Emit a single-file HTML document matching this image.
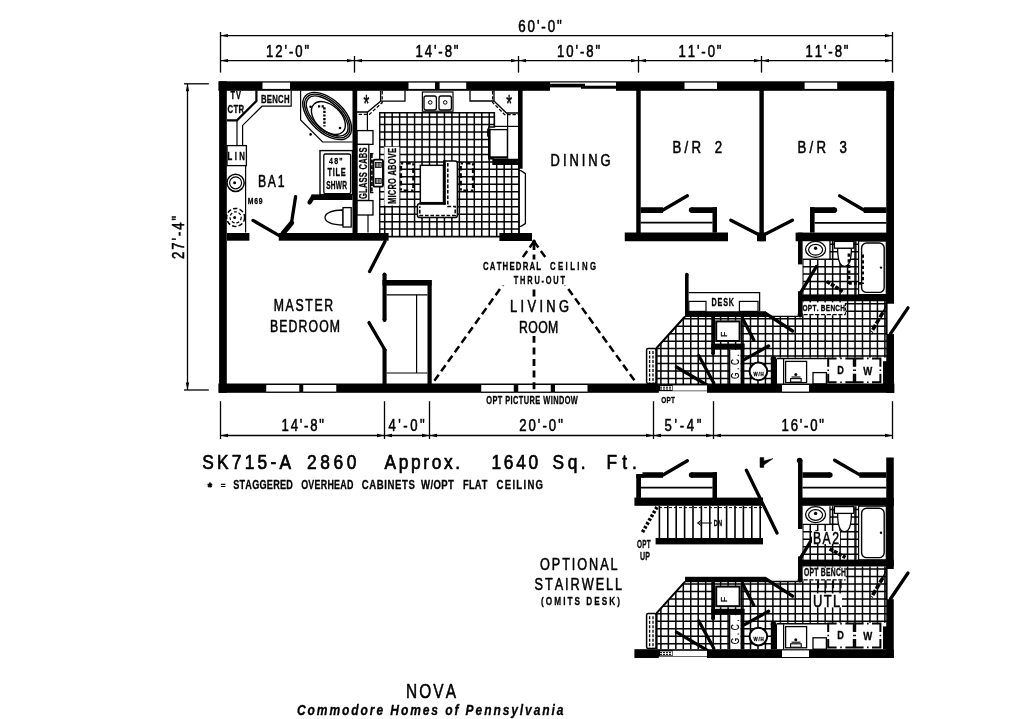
<!DOCTYPE html>
<html><head><meta charset="utf-8"><title>NOVA floor plan</title>
<style>
html,body{margin:0;padding:0;background:#fff;}
svg{display:block;will-change:transform;}
text{font-family:"Liberation Sans",sans-serif;fill:#000;font-kerning:none;}
</style></head><body>
<svg width="1024" height="719" viewBox="0 0 1024 719">
<rect width="1024" height="719" fill="#fff"/>
<clipPath id="gc1"><path d="M379.75 112.75 L494.40 112.75 L494.40 127.00 L488.75 127.00 L488.75 158.75 L493.00 158.75 L493.00 164.40 L519.00 164.40 L519.00 236.70 L379.75 236.70 Z"/></clipPath>
<path d="M384.70 112.75V236.70M392.17 112.75V236.70M399.63 112.75V236.70M407.10 112.75V236.70M414.57 112.75V236.70M422.03 112.75V236.70M429.50 112.75V236.70M436.97 112.75V236.70M444.43 112.75V236.70M451.90 112.75V236.70M459.37 112.75V236.70M466.83 112.75V236.70M474.30 112.75V236.70M481.77 112.75V236.70M489.23 112.75V236.70M496.70 112.75V236.70M504.17 112.75V236.70M511.63 112.75V236.70M379.75 117.10H519.00M379.75 124.57H519.00M379.75 132.03H519.00M379.75 139.50H519.00M379.75 146.97H519.00M379.75 154.43H519.00M379.75 161.90H519.00M379.75 169.37H519.00M379.75 176.83H519.00M379.75 184.30H519.00M379.75 191.77H519.00M379.75 199.23H519.00M379.75 206.70H519.00M379.75 214.17H519.00M379.75 221.63H519.00M379.75 229.10H519.00M379.75 236.57H519.00" fill="none" stroke="#000" stroke-width="1.5" clip-path="url(#gc1)"/>
<path d="M379.75 112.75 L494.40 112.75 L494.40 127.00 L488.75 127.00 L488.75 158.75 L493.00 158.75 L493.00 164.40 L519.00 164.40 L519.00 236.70 L379.75 236.70 Z" fill="none" stroke="#000" stroke-width="1.4" stroke-linejoin="miter" stroke-linecap="butt"/>
<clipPath id="gc2"><path d="M685.00 316.50 L802.50 316.50 L802.50 301.00 L887.00 301.00 L887.00 384.00 L656.60 384.00 L656.60 348.00 Z"/></clipPath>
<path d="M660.90 301.00V384.00M668.37 301.00V384.00M675.83 301.00V384.00M683.30 301.00V384.00M690.77 301.00V384.00M698.23 301.00V384.00M705.70 301.00V384.00M713.17 301.00V384.00M720.63 301.00V384.00M728.10 301.00V384.00M735.57 301.00V384.00M743.03 301.00V384.00M750.50 301.00V384.00M757.97 301.00V384.00M765.43 301.00V384.00M772.90 301.00V384.00M780.37 301.00V384.00M787.83 301.00V384.00M795.30 301.00V384.00M802.77 301.00V384.00M810.23 301.00V384.00M817.70 301.00V384.00M825.17 301.00V384.00M832.63 301.00V384.00M840.10 301.00V384.00M847.57 301.00V384.00M855.03 301.00V384.00M862.50 301.00V384.00M869.97 301.00V384.00M877.43 301.00V384.00M884.90 301.00V384.00M656.60 303.82H887.00M656.60 311.28H887.00M656.60 318.75H887.00M656.60 326.22H887.00M656.60 333.68H887.00M656.60 341.15H887.00M656.60 348.62H887.00M656.60 356.08H887.00M656.60 363.55H887.00M656.60 371.02H887.00M656.60 378.48H887.00" fill="none" stroke="#000" stroke-width="1.5" clip-path="url(#gc2)"/>
<clipPath id="gc3"><path d="M802.50 241.00 L858.50 241.00 L858.50 295.00 L802.50 295.00 Z"/></clipPath>
<path d="M802.77 241.00V295.00M810.23 241.00V295.00M817.70 241.00V295.00M825.17 241.00V295.00M832.63 241.00V295.00M840.10 241.00V295.00M847.57 241.00V295.00M855.03 241.00V295.00M802.50 244.23H858.50M802.50 251.70H858.50M802.50 259.17H858.50M802.50 266.63H858.50M802.50 274.10H858.50M802.50 281.57H858.50M802.50 289.03H858.50" fill="none" stroke="#000" stroke-width="1.5" clip-path="url(#gc3)"/>
<rect x="802.50" y="241.00" width="27.50" height="18.40" fill="#fff" />
<rect x="715.00" y="320.60" width="25.60" height="21.40" fill="#fff" />
<rect x="730.00" y="350.00" width="10.60" height="34.00" fill="#fff" />
<rect x="777.00" y="357.60" width="110.00" height="26.40" fill="#fff" />
<path d="M685.00 316.50 L656.60 348.00 L656.60 384.00" fill="none" stroke="#000" stroke-width="2" stroke-linejoin="miter" stroke-linecap="butt"/>
<rect x="646.6" y="348.4" width="9.4" height="35" rx="1.5" fill="#fff" stroke="#000" stroke-width="1.5"/>
<line x1="649.60" y1="351.00" x2="649.60" y2="383.00" stroke="#000" stroke-width="1.3" stroke-linecap="butt" stroke-dasharray="3 1.5"/>
<line x1="653.00" y1="351.00" x2="653.00" y2="383.00" stroke="#000" stroke-width="1.3" stroke-linecap="butt" stroke-dasharray="3 1.5"/>
<line x1="765.00" y1="316.30" x2="798.00" y2="316.30" stroke="#000" stroke-width="1.3" stroke-linecap="butt"/>
<line x1="886.60" y1="301.00" x2="886.60" y2="334.50" stroke="#000" stroke-width="2" stroke-linecap="butt"/>
<rect x="685.00" y="311.25" width="81.00" height="5.75" fill="#000" />
<rect x="711.25" y="317.00" width="3.75" height="36.50" fill="#000" />
<circle cx="713.1" cy="353.3" r="1.9" fill="#000"/>
<rect x="711.25" y="343.60" width="33.15" height="6.00" fill="#000" />
<rect x="740.60" y="343.60" width="3.80" height="40.40" fill="#000" />
<line x1="741.60" y1="317.00" x2="741.60" y2="344.00" stroke="#000" stroke-width="1.6" stroke-linecap="butt"/>
<rect x="716.20" y="321.40" width="23.40" height="19.60" fill="#fff" stroke="#000" stroke-width="2" />
<text transform="translate(727.2 337.00) rotate(-90) scale(0.9 1)" font-size="9.6" stroke="#000" stroke-width="0.3">F</text>
<line x1="729.60" y1="349.60" x2="729.60" y2="384.00" stroke="#000" stroke-width="1.4" stroke-linecap="butt"/>
<text transform="translate(739.40 366.60) rotate(-90) translate(-12.50 0) scale(0.7200 1)" font-size="11.40" font-weight="normal" letter-spacing="3.748" stroke="#000" stroke-width="0.3" stroke-linejoin="round">G.C.</text>
<circle cx="758.40" cy="371.40" r="8.80" fill="#fff" stroke="#000" stroke-width="2"/>
<text transform="translate(758.60 375.60) translate(-5.20 0) scale(0.7200 1)" font-size="6.09" font-weight="bold" letter-spacing="1.300" stroke="#000" stroke-width="0.3" stroke-linejoin="round">W/H</text>
<rect x="770.80" y="359.00" width="6.20" height="25.00" fill="#000" />
<circle cx="773.4" cy="358.8" r="2.8" fill="#000"/>
<line x1="776.60" y1="358.60" x2="829.00" y2="358.60" stroke="#000" stroke-width="1.5" stroke-linecap="butt"/>
<line x1="783.60" y1="359.00" x2="783.60" y2="384.00" stroke="#000" stroke-width="1.2" stroke-linecap="butt"/>
<rect x="785.60" y="361.40" width="21.00" height="21.20" fill="#fff" stroke="#000" stroke-width="1.3" />
<rect x="790.60" y="378.60" width="10.60" height="3.40" fill="#fff" stroke="#000" stroke-width="1.1" />
<circle cx="795.8" cy="374.6" r="1.5" fill="#000"/>
<line x1="791.50" y1="377.00" x2="800.50" y2="377.00" stroke="#000" stroke-width="1.1" stroke-linecap="butt"/>
<rect x="813.00" y="372.60" width="13.40" height="11.40" fill="#fff" stroke="#000" stroke-width="1.3" />
<rect x="828.20" y="358.40" width="25.60" height="23.80" fill="#fff" />
<path d="M828.2 366.79999999999995V358.4H836.6M845.4 358.4H853.8V366.79999999999995M853.8 373.8V382.2H845.4M836.6 382.2H828.2V373.8" fill="none" stroke="#000" stroke-width="2"/>
<path d="M840.2 358.4h1.6M840.2 382.2h1.6M828.2 369.49999999999994v1.6M853.8 369.49999999999994v1.6" fill="none" stroke="#000" stroke-width="1.6"/>
<rect x="855.20" y="358.40" width="25.20" height="23.80" fill="#fff" />
<path d="M855.2 366.79999999999995V358.4H863.6M872.0 358.4H880.4V366.79999999999995M880.4 373.8V382.2H872.0M863.6 382.2H855.2V373.8" fill="none" stroke="#000" stroke-width="2"/>
<path d="M867.0 358.4h1.6M867.0 382.2h1.6M855.2 369.49999999999994v1.6M880.4 369.49999999999994v1.6" fill="none" stroke="#000" stroke-width="1.6"/>
<text transform="translate(840.60 374.20) translate(-3.30 0) scale(0.8245 1)" font-size="11.12" font-weight="bold" letter-spacing="0.303" stroke="#000" stroke-width="0.3" stroke-linejoin="round">D</text>
<text transform="translate(867.80 374.80) translate(-4.50 0) scale(0.8787 1)" font-size="10.84" font-weight="bold" letter-spacing="0.284" stroke="#000" stroke-width="0.3" stroke-linejoin="round">W</text>
<rect x="883.00" y="361.20" width="4.00" height="22.80" fill="#000" />
<rect x="798.00" y="294.40" width="95.75" height="6.85" fill="#000" />
<rect x="858.60" y="241.00" width="27.70" height="53.60" fill="#fff" stroke="#000" stroke-width="1.2" />
<rect x="861.6" y="243" width="22.6" height="49.4" rx="5" fill="#fff" stroke="#000" stroke-width="1.4"/>
<circle cx="881" cy="267.6" r="1.2" fill="#000"/>
<line x1="856.00" y1="241.00" x2="856.00" y2="294.60" stroke="#000" stroke-width="1.1" stroke-linecap="butt"/>
<line x1="830.00" y1="241.00" x2="830.00" y2="259.40" stroke="#000" stroke-width="1.3" stroke-linecap="butt"/>
<line x1="802.50" y1="259.20" x2="830.00" y2="259.20" stroke="#000" stroke-width="1.3" stroke-linecap="butt"/>
<ellipse cx="815.60" cy="249.40" rx="10.00" ry="8.00" fill="#fff" stroke="#000" stroke-width="1.3"/>
<ellipse cx="815.60" cy="249.80" rx="7.00" ry="5.40" fill="#fff" stroke="#000" stroke-width="1.2"/>
<circle cx="815.6" cy="248.2" r="1.7" fill="#000"/>
<line x1="832.60" y1="241.00" x2="832.60" y2="259.00" stroke="#000" stroke-width="1.1" stroke-linecap="butt"/>
<path d="M837.6 248 C837.6 258 839.5 266.4 844.5 266.4 C849.5 266.4 851.4 258 851.4 248 Z" fill="#fff" stroke="#000" stroke-width="1.3"/>
<rect x="834.40" y="241.40" width="19.40" height="6.80" fill="#fff" stroke="#000" stroke-width="1.3" />
<line x1="849.00" y1="253.60" x2="849.00" y2="284.00" stroke="#000" stroke-width="2.8" stroke-linecap="butt" stroke-dasharray="3.2 2.4"/>
<line x1="862.60" y1="254.60" x2="862.60" y2="284.00" stroke="#000" stroke-width="2.8" stroke-linecap="butt" stroke-dasharray="3.2 2.4"/>
<line x1="849.00" y1="283.40" x2="862.60" y2="283.40" stroke="#000" stroke-width="2.6" stroke-linecap="butt" stroke-dasharray="2.8 2.2"/>
<line x1="826.80" y1="281.40" x2="843.80" y2="292.20" stroke="#000" stroke-width="3.6" stroke-linecap="butt" stroke-dasharray="3.8 1.2"/>
<line x1="886.00" y1="305.60" x2="882.60" y2="313.00" stroke="#000" stroke-width="1.4" stroke-linecap="butt"/>
<line x1="882.80" y1="312.60" x2="871.40" y2="332.00" stroke="#000" stroke-width="3.6" stroke-linecap="butt" stroke-dasharray="5.6 1.6"/>
<rect x="802.60" y="302.40" width="43.00" height="12.80" fill="#fff" />
<line x1="803.50" y1="314.60" x2="845.60" y2="314.60" stroke="#000" stroke-width="1.2" stroke-linecap="butt" stroke-dasharray="4.2 1.6"/>
<line x1="845.40" y1="303.00" x2="845.40" y2="314.60" stroke="#000" stroke-width="1.1" stroke-linecap="butt" stroke-dasharray="3 1.6"/>
<text transform="translate(823.80 310.80) translate(-21.25 0) scale(0.7720 1)" font-size="8.46" font-weight="bold" letter-spacing="0.324" stroke="#000" stroke-width="0.3" stroke-linejoin="round">OPT. BENCH</text>
<line x1="890.40" y1="333.80" x2="908.00" y2="307.80" stroke="#000" stroke-width="3.3" stroke-linecap="round"/>
<line x1="742.60" y1="318.60" x2="753.80" y2="340.00" stroke="#000" stroke-width="3.3" stroke-linecap="round"/>
<line x1="744.60" y1="359.40" x2="768.60" y2="346.00" stroke="#000" stroke-width="3.3" stroke-linecap="round"/>
<line x1="698.80" y1="355.80" x2="713.80" y2="383.00" stroke="#000" stroke-width="3.3" stroke-linecap="round"/>
<line x1="676.40" y1="367.00" x2="707.00" y2="385.00" stroke="#000" stroke-width="3.3" stroke-linecap="round"/>
<line x1="766.00" y1="313.60" x2="792.60" y2="331.00" stroke="#000" stroke-width="3.3" stroke-linecap="round"/>
<line x1="816.40" y1="266.60" x2="800.40" y2="293.00" stroke="#000" stroke-width="3.3" stroke-linecap="round"/>
<rect x="384.30" y="146.80" width="15.10" height="58.80" fill="#fff" />
<rect x="420.40" y="165.40" width="23.00" height="37.20" fill="#fff" stroke="#000" stroke-width="1.3" />
<path d="M445.8 161 H455 Q457.4 161 457.4 163.4 V215 Q457.4 217.6 455 217.6 H420 Q417.4 217.6 417.4 215 V206 Q417.4 203.8 419.6 203.8 H444.4 V161 Z" fill="#fff" stroke="#000" stroke-width="1.5"/>
<rect x="420.40" y="165.40" width="23.00" height="37.20" fill="#fff" stroke="#000" stroke-width="1.3" />
<line x1="444.40" y1="160.40" x2="444.40" y2="204.60" stroke="#000" stroke-width="2.8" stroke-linecap="butt"/>
<line x1="419.60" y1="203.40" x2="445.80" y2="203.40" stroke="#000" stroke-width="2.4" stroke-linecap="butt"/>
<path d="M447.80 163.00 L447.80 206.40 L455.20 206.40 L455.20 215.40 L419.80 215.40 L419.80 206.20" fill="none" stroke="#000" stroke-width="1.5" stroke-linejoin="miter" stroke-linecap="butt" stroke-dasharray="3.6 1.8"/>
<line x1="400.9" y1="163.2" x2="413.4" y2="163.2" stroke="#000" stroke-width="2.4" stroke-dasharray="4.6 2.8667" stroke-dashoffset="2.3"/>
<line x1="413.4" y1="163.2" x2="413.4" y2="190.6" stroke="#000" stroke-width="2.4" stroke-dasharray="4.6 2.8667" stroke-dashoffset="2.3"/>
<line x1="413.4" y1="190.6" x2="400.9" y2="190.6" stroke="#000" stroke-width="2.4" stroke-dasharray="4.6 2.8667" stroke-dashoffset="2.3"/>
<line x1="400.9" y1="190.6" x2="400.9" y2="163.2" stroke="#000" stroke-width="2.4" stroke-dasharray="4.6 2.8667" stroke-dashoffset="2.3"/>
<line x1="460.7" y1="163.2" x2="473.1" y2="163.2" stroke="#000" stroke-width="2.4" stroke-dasharray="4.6 2.8667" stroke-dashoffset="2.3"/>
<line x1="473.1" y1="163.2" x2="473.1" y2="190.6" stroke="#000" stroke-width="2.4" stroke-dasharray="4.6 2.8667" stroke-dashoffset="2.3"/>
<line x1="473.1" y1="190.6" x2="460.7" y2="190.6" stroke="#000" stroke-width="2.4" stroke-dasharray="4.6 2.8667" stroke-dashoffset="2.3"/>
<line x1="460.7" y1="190.6" x2="460.7" y2="163.2" stroke="#000" stroke-width="2.4" stroke-dasharray="4.6 2.8667" stroke-dashoffset="2.3"/>
<rect x="489.40" y="129.60" width="18.00" height="28.00" fill="#fff" stroke="#000" stroke-width="1.3" />
<line x1="489.40" y1="128.60" x2="489.40" y2="158.20" stroke="#000" stroke-width="2.4" stroke-linecap="butt"/>
<line x1="488.40" y1="157.40" x2="507.60" y2="157.40" stroke="#000" stroke-width="2.2" stroke-linecap="butt"/>
<line x1="488.20" y1="129.40" x2="488.20" y2="136.00" stroke="#000" stroke-width="2.2" stroke-linecap="round"/>
<rect x="493.00" y="158.75" width="25.40" height="5.65" fill="#000" />
<line x1="507.60" y1="113.00" x2="507.60" y2="158.80" stroke="#000" stroke-width="1.2" stroke-linecap="butt"/>
<line x1="494.40" y1="126.40" x2="518.00" y2="126.40" stroke="#000" stroke-width="1.2" stroke-linecap="butt"/>
<line x1="494.40" y1="112.75" x2="494.40" y2="126.40" stroke="#000" stroke-width="1.3" stroke-linecap="butt"/>
<path d="M470.00 90.50 L470.00 101.00 L494.00 101.00 L494.00 90.50" fill="none" stroke="#000" stroke-width="1.3" stroke-linejoin="miter" stroke-linecap="butt"/>
<path d="M494.00 101.00 L506.40 113.00 L518.00 113.00" fill="none" stroke="#000" stroke-width="1.3" stroke-linejoin="miter" stroke-linecap="butt"/>
<path d="M492.60 91.00 L492.60 102.40 L504.60 114.60 L518.00 114.60" fill="none" stroke="#000" stroke-width="1.3" stroke-linejoin="miter" stroke-linecap="butt" stroke-dasharray="3.4 1.8"/>
<text transform="translate(509.2 112.4) scale(0.62 1)" font-size="24" text-anchor="middle" stroke="#000" stroke-width="0.5">*</text>
<path d="M380.60 90.50 L380.60 101.20 L405.00 101.20 L405.00 90.50" fill="none" stroke="#000" stroke-width="1.3" stroke-linejoin="miter" stroke-linecap="butt"/>
<path d="M380.60 101.20 L367.60 112.00 L357.00 112.00" fill="none" stroke="#000" stroke-width="1.3" stroke-linejoin="miter" stroke-linecap="butt"/>
<path d="M382.20 91.00 L382.20 102.60 L369.40 114.40 L357.00 114.40" fill="none" stroke="#000" stroke-width="1.3" stroke-linejoin="miter" stroke-linecap="butt" stroke-dasharray="3.4 1.8"/>
<line x1="367.40" y1="112.00" x2="367.40" y2="130.60" stroke="#000" stroke-width="1.2" stroke-linecap="butt"/>
<text transform="translate(366.4 112.4) scale(0.62 1)" font-size="24" text-anchor="middle" stroke="#000" stroke-width="0.5">*</text>
<rect x="357.00" y="130.60" width="16.00" height="13.80" fill="#fff" stroke="#000" stroke-width="1.3" />
<rect x="357.00" y="144.40" width="11.80" height="56.00" fill="#fff" stroke="#000" stroke-width="1.2" />
<rect x="357.00" y="200.60" width="16.00" height="14.40" fill="#fff" stroke="#000" stroke-width="1.3" />
<line x1="368.00" y1="215.00" x2="368.00" y2="232.60" stroke="#000" stroke-width="1.2" stroke-linecap="butt"/>
<text transform="translate(367.40 173.30) rotate(-90) translate(-25.75 0) scale(0.6943 1)" font-size="10.84" font-weight="bold" letter-spacing="0.360" stroke="#000" stroke-width="0.3" stroke-linejoin="round">GLASS CABS</text>
<text transform="translate(395.60 176.00) rotate(-90) translate(-28.00 0) scale(0.6890 1)" font-size="10.84" font-weight="bold" letter-spacing="0.363" stroke="#000" stroke-width="0.3" stroke-linejoin="round">MICRO ABOVE</text>
<path d="M373.40 153.60 L370.60 153.60 L370.60 192.60 L373.40 192.60" fill="none" stroke="#000" stroke-width="1.2" stroke-linejoin="miter" stroke-linecap="butt"/>
<line x1="371.90" y1="154.00" x2="371.90" y2="192.40" stroke="#000" stroke-width="1.6" stroke-linecap="butt" stroke-dasharray="4 1.6"/>
<line x1="370.60" y1="161.20" x2="374.00" y2="161.20" stroke="#000" stroke-width="1.2" stroke-linecap="butt"/>
<line x1="370.60" y1="177.00" x2="374.00" y2="177.00" stroke="#000" stroke-width="1.2" stroke-linecap="butt"/>
<rect x="373.4" y="159.6" width="9.6" height="27" rx="1.6" fill="#fff" stroke="#000" stroke-width="1.9"/>
<rect x="375.40" y="162.40" width="5.80" height="5.00" fill="#fff" stroke="#000" stroke-width="0.9" />
<line x1="376.80" y1="162.40" x2="376.80" y2="167.40" stroke="#000" stroke-width="0.8" stroke-linecap="butt"/>
<line x1="378.30" y1="162.40" x2="378.30" y2="167.40" stroke="#000" stroke-width="0.8" stroke-linecap="butt"/>
<line x1="379.80" y1="162.40" x2="379.80" y2="167.40" stroke="#000" stroke-width="0.8" stroke-linecap="butt"/>
<rect x="375.40" y="178.40" width="5.80" height="5.00" fill="#fff" stroke="#000" stroke-width="0.9" />
<line x1="376.80" y1="178.40" x2="376.80" y2="183.40" stroke="#000" stroke-width="0.8" stroke-linecap="butt"/>
<line x1="378.30" y1="178.40" x2="378.30" y2="183.40" stroke="#000" stroke-width="0.8" stroke-linecap="butt"/>
<line x1="379.80" y1="178.40" x2="379.80" y2="183.40" stroke="#000" stroke-width="0.8" stroke-linecap="butt"/>
<rect x="422.40" y="92.00" width="30.60" height="19.20" fill="#fff" stroke="#000" stroke-width="1.2" />
<rect x="424" y="96" width="12.4" height="14" rx="2" fill="#fff" stroke="#000" stroke-width="1.3"/>
<rect x="439" y="96" width="12.4" height="14" rx="2" fill="#fff" stroke="#000" stroke-width="1.3"/>
<circle cx="430.20" cy="102.40" r="1.80" fill="none" stroke="#000" stroke-width="1"/>
<circle cx="445.20" cy="102.40" r="1.80" fill="none" stroke="#000" stroke-width="1"/>
<path d="M519.00 170.60 L521.00 170.60 L525.40 173.60 L525.40 223.60 L521.00 226.40 L519.00 226.40" fill="none" stroke="#000" stroke-width="1.3" stroke-linejoin="miter" stroke-linecap="butt"/>
<line x1="519.00" y1="164.00" x2="519.00" y2="237.00" stroke="#000" stroke-width="1.4" stroke-linecap="butt"/>
<path d="M256.40 90.50 L256.40 101.00 L237.00 120.40 L227.00 120.40" fill="none" stroke="#000" stroke-width="2.2" stroke-linejoin="miter" stroke-linecap="butt"/>
<path d="M291.20 90.50 L291.20 106.20 L262.00 106.20 L242.60 125.40 L242.60 145.60" fill="none" stroke="#000" stroke-width="1.2" stroke-linejoin="miter" stroke-linecap="butt"/>
<line x1="237.00" y1="120.40" x2="237.00" y2="145.60" stroke="#000" stroke-width="1.2" stroke-linecap="butt"/>
<rect x="227.00" y="145.60" width="19.40" height="20.00" fill="#fff" stroke="#000" stroke-width="1.3" />
<line x1="245.60" y1="165.60" x2="245.60" y2="232.60" stroke="#000" stroke-width="1.2" stroke-linecap="butt"/>
<text transform="translate(235.80 99.10) translate(-5.20 0) scale(0.7200 1)" font-size="10.28" font-weight="bold" letter-spacing="1.338" stroke="#000" stroke-width="0.3" stroke-linejoin="round">TV</text>
<text transform="translate(235.80 113.10) translate(-8.25 0) scale(0.7200 1)" font-size="10.84" font-weight="bold" letter-spacing="0.349" stroke="#000" stroke-width="0.3" stroke-linejoin="round">CTR</text>
<text transform="translate(275.20 103.20) translate(-14.20 0) scale(0.7132 1)" font-size="10.84" font-weight="bold" letter-spacing="0.351" stroke="#000" stroke-width="0.3" stroke-linejoin="round">BENCH</text>
<text transform="translate(236.20 160.00) translate(-8.75 0) scale(0.7200 1)" font-size="10.84" font-weight="bold" letter-spacing="3.428" stroke="#000" stroke-width="0.3" stroke-linejoin="round">LIN</text>
<circle cx="235.60" cy="182.80" r="8.60" fill="none" stroke="#000" stroke-width="1.5"/>
<circle cx="235.60" cy="182.80" r="6.00" fill="none" stroke="#000" stroke-width="1.2"/>
<circle cx="234.6" cy="182.8" r="1.5" fill="#000"/>
<circle cx="235.60" cy="217.40" r="9.00" fill="none" stroke="#000" stroke-width="1.5" stroke-dasharray="4.4 2.2"/>
<circle cx="235.60" cy="217.40" r="5.60" fill="none" stroke="#000" stroke-width="1.2" stroke-dasharray="3 1.8"/>
<circle cx="234.6" cy="217.4" r="1.5" fill="#000"/>
<text transform="translate(271.20 187.00) translate(-13.30 0) scale(0.7400 1)" font-size="16.56" font-weight="normal" letter-spacing="2.361" stroke="#000" stroke-width="0.55" stroke-linejoin="round">BA1</text>
<text transform="translate(255.10 204.40) translate(-7.35 0) scale(0.7200 1)" font-size="9.44" font-weight="bold" letter-spacing="1.027" stroke="#000" stroke-width="0.3" stroke-linejoin="round">M69</text>
<path d="M300.60 90.50 L300.60 120.00 L322.60 142.00 L352.50 142.00" fill="none" stroke="#000" stroke-width="1.2" stroke-linejoin="miter" stroke-linecap="butt"/>
<ellipse cx="327.20" cy="116.00" rx="29.60" ry="16.60" fill="none" stroke="#000" stroke-width="1.4" transform="rotate(43 327.20 116.00)"/>
<ellipse cx="327.20" cy="116.00" rx="27.70" ry="14.90" fill="none" stroke="#000" stroke-width="1.4" transform="rotate(43 327.20 116.00)"/>
<ellipse cx="327.20" cy="116.00" rx="25.80" ry="13.20" fill="none" stroke="#000" stroke-width="1.4" transform="rotate(43 327.20 116.00)"/>
<ellipse cx="328.40" cy="118.00" rx="20.00" ry="12.60" fill="none" stroke="#000" stroke-width="1.4" transform="rotate(43 328.40 118.00)"/>
<path d="M318.00 106.40 L324.40 106.40 L324.40 126.40" fill="none" stroke="#000" stroke-width="2.4" stroke-linejoin="miter" stroke-linecap="butt" stroke-dasharray="2.2 1.4"/>
<circle cx="310.6" cy="106.8" r="1.3" fill="#000"/>
<circle cx="310.6" cy="134.4" r="1.3" fill="#000"/>
<circle cx="340" cy="128" r="1.3" fill="#000"/>
<rect x="320.00" y="150.60" width="32.50" height="44.00" fill="#fff" stroke="#000" stroke-width="1.4" />
<rect x="323.8" y="154" width="26.8" height="39.6" rx="1.6" fill="#fff" stroke="#000" stroke-width="1.3"/>
<text transform="translate(335.80 163.80) translate(-6.75 0) scale(0.7200 1)" font-size="9.72" font-weight="bold" letter-spacing="1.671" stroke="#000" stroke-width="0.3" stroke-linejoin="round">48"</text>
<text transform="translate(336.60 176.30) translate(-9.05 0) scale(0.7200 1)" font-size="10.28" font-weight="bold" letter-spacing="0.961" stroke="#000" stroke-width="0.3" stroke-linejoin="round">TILE</text>
<text transform="translate(336.60 188.70) translate(-10.40 0) scale(0.6226 1)" font-size="10.56" font-weight="bold" letter-spacing="0.402" stroke="#000" stroke-width="0.3" stroke-linejoin="round">SHWR</text>
<rect x="311.40" y="194.40" width="41.10" height="5.60" fill="#000" />
<path d="M313.00 197.00 L309.60 202.40" fill="none" stroke="#000" stroke-width="4.4" stroke-linejoin="miter" stroke-linecap="round"/>
<path d="M343 210 C332 210 325 213 325 217.5 C325 222 332 225 343 225 Z" fill="#fff" stroke="#000" stroke-width="1.3"/>
<rect x="343.00" y="207.60" width="8.20" height="19.40" fill="#fff" stroke="#000" stroke-width="1.3" />
<line x1="357.00" y1="215.00" x2="357.00" y2="232.60" stroke="#000" stroke-width="1.0" stroke-linecap="butt"/>
<rect x="218.40" y="81.30" width="331.60" height="9.50" fill="#000" />
<rect x="616.00" y="81.30" width="278.20" height="9.50" fill="#000" />
<rect x="219.10" y="81.30" width="7.70" height="311.50" fill="#000" />
<rect x="218.40" y="383.50" width="676.00" height="9.30" fill="#000" />
<rect x="886.25" y="81.30" width="7.75" height="222.45" fill="#000" />
<rect x="886.25" y="334.00" width="7.75" height="58.80" fill="#000" />
<line x1="550.00" y1="81.90" x2="616.00" y2="81.90" stroke="#000" stroke-width="1.1" stroke-linecap="butt"/>
<rect x="550.00" y="83.75" width="35.00" height="3.65" fill="#000" />
<rect x="581.00" y="85.70" width="35.00" height="3.05" fill="#000" />
<rect x="352.50" y="90.00" width="4.70" height="150.00" fill="#000" />
<rect x="518.00" y="90.00" width="4.60" height="78.75" fill="#000" />
<rect x="636.25" y="90.00" width="4.45" height="151.00" fill="#000" />
<rect x="759.40" y="90.00" width="4.40" height="151.25" fill="#000" />
<rect x="757.00" y="232.50" width="9.00" height="8.75" fill="#000" />
<rect x="227.00" y="233.00" width="22.40" height="7.70" fill="#000" />
<rect x="278.75" y="233.00" width="109.85" height="7.70" fill="#000" />
<rect x="499.40" y="233.00" width="32.60" height="8.00" fill="#000" />
<circle cx="534" cy="241.2" r="1.8" fill="#000"/>
<rect x="624.75" y="232.50" width="103.25" height="8.75" fill="#000" />
<rect x="795.60" y="232.60" width="98.15" height="8.65" fill="#000" />
<rect x="798.00" y="232.60" width="4.50" height="31.80" fill="#000" />
<rect x="798.00" y="291.25" width="4.50" height="23.75" fill="#000" />
<circle cx="800.2" cy="314.8" r="2.6" fill="#000"/>
<rect x="640.60" y="207.25" width="22.40" height="5.75" fill="#000" />
<rect x="691.40" y="207.25" width="25.60" height="5.75" fill="#000" />
<rect x="712.50" y="207.25" width="4.50" height="25.35" fill="#000" />
<circle cx="691.6" cy="210.1" r="2.8" fill="#000"/>
<line x1="640.60" y1="222.60" x2="712.50" y2="222.60" stroke="#000" stroke-width="1.7" stroke-linecap="butt"/>
<rect x="810.00" y="207.25" width="4.60" height="25.35" fill="#000" />
<rect x="810.00" y="207.25" width="24.60" height="5.75" fill="#000" />
<circle cx="834.4" cy="210.1" r="2.8" fill="#000"/>
<rect x="863.75" y="207.25" width="22.65" height="5.75" fill="#000" />
<line x1="814.60" y1="222.80" x2="886.30" y2="222.80" stroke="#000" stroke-width="1.7" stroke-linecap="butt"/>
<rect x="382.50" y="274.40" width="4.10" height="45.60" fill="#000" />
<circle cx="384.5" cy="274.6" r="2" fill="#000"/><circle cx="384.5" cy="320" r="2" fill="#000"/>
<rect x="382.50" y="280.00" width="49.10" height="5.60" fill="#000" />
<rect x="427.50" y="280.00" width="4.20" height="104.00" fill="#000" />
<rect x="382.50" y="349.00" width="4.10" height="35.00" fill="#000" />
<line x1="386.60" y1="294.80" x2="427.50" y2="294.80" stroke="#000" stroke-width="1.3" stroke-linecap="butt"/>
<line x1="416.60" y1="294.80" x2="416.60" y2="373.00" stroke="#000" stroke-width="1.2" stroke-linecap="butt"/>
<line x1="386.60" y1="373.00" x2="427.50" y2="373.00" stroke="#000" stroke-width="1.2" stroke-linecap="butt"/>
<rect x="685.00" y="274.40" width="3.60" height="37.60" fill="#000" />
<circle cx="686.8" cy="274.6" r="1.8" fill="#000"/>
<path d="M688.60 292.60 L759.60 292.60 L759.60 311.40" fill="none" stroke="#000" stroke-width="1.3" stroke-linejoin="miter" stroke-linecap="butt"/>
<rect x="688.80" y="301.40" width="17.20" height="10.00" fill="#fff" stroke="#000" stroke-width="1.2" />
<rect x="739.40" y="301.40" width="18.60" height="10.00" fill="#fff" stroke="#000" stroke-width="1.2" />
<text transform="translate(722.70 305.80) translate(-11.30 0) scale(0.7200 1)" font-size="10.00" font-weight="bold" letter-spacing="1.230" stroke="#000" stroke-width="0.3" stroke-linejoin="round">DESK</text>
<rect x="262.50" y="82.60" width="27.50" height="6.30" fill="#fff" />
<rect x="408.50" y="82.60" width="26.50" height="6.30" fill="#fff" />
<rect x="439.60" y="82.60" width="26.60" height="6.30" fill="#fff" />
<rect x="684.50" y="82.60" width="32.50" height="6.30" fill="#fff" />
<rect x="804.60" y="82.60" width="32.60" height="6.30" fill="#fff" />
<rect x="266.25" y="385.00" width="33.00" height="6.90" fill="#fff" />
<line x1="266.25" y1="392.10" x2="299.25" y2="392.10" stroke="#000" stroke-width="0.9" stroke-linecap="butt"/>
<rect x="303.25" y="385.00" width="33.00" height="6.90" fill="#fff" />
<line x1="303.25" y1="392.10" x2="336.25" y2="392.10" stroke="#000" stroke-width="0.9" stroke-linecap="butt"/>
<rect x="481.25" y="385.00" width="32.50" height="6.90" fill="#fff" />
<line x1="481.25" y1="392.10" x2="513.75" y2="392.10" stroke="#000" stroke-width="0.9" stroke-linecap="butt"/>
<rect x="518.25" y="385.00" width="32.50" height="6.90" fill="#fff" />
<line x1="518.25" y1="392.10" x2="550.75" y2="392.10" stroke="#000" stroke-width="0.9" stroke-linecap="butt"/>
<rect x="555.00" y="385.00" width="32.50" height="6.90" fill="#fff" />
<line x1="555.00" y1="392.10" x2="587.50" y2="392.10" stroke="#000" stroke-width="0.9" stroke-linecap="butt"/>
<rect x="782.00" y="385.00" width="27.00" height="6.90" fill="#fff" />
<line x1="782.00" y1="392.10" x2="809.00" y2="392.10" stroke="#000" stroke-width="0.9" stroke-linecap="butt"/>
<rect x="658.80" y="391.20" width="48.20" height="1.80" fill="#fff" />
<rect x="672.60" y="385.40" width="34.40" height="5.20" fill="#fff" />
<rect x="660.00" y="386.00" width="12.00" height="4.00" fill="#fff" />
<line x1="660.00" y1="387.20" x2="672.00" y2="387.20" stroke="#000" stroke-width="1" stroke-linecap="butt" stroke-dasharray="2 1"/>
<line x1="660.00" y1="389.00" x2="672.00" y2="389.00" stroke="#000" stroke-width="1" stroke-linecap="butt" stroke-dasharray="2 1"/>
<line x1="253.00" y1="220.40" x2="278.80" y2="235.40" stroke="#000" stroke-width="3.3" stroke-linecap="round"/>
<line x1="295.60" y1="196.60" x2="291.40" y2="223.60" stroke="#000" stroke-width="3.3" stroke-linecap="round"/>
<line x1="291.60" y1="223.00" x2="283.00" y2="233.40" stroke="#000" stroke-width="5" stroke-linecap="round"/>
<line x1="385.00" y1="241.40" x2="369.60" y2="271.60" stroke="#000" stroke-width="3.3" stroke-linecap="round"/>
<line x1="369.00" y1="322.60" x2="385.00" y2="350.00" stroke="#000" stroke-width="3.3" stroke-linecap="round"/>
<line x1="663.00" y1="210.00" x2="687.40" y2="195.80" stroke="#000" stroke-width="3.3" stroke-linecap="round"/>
<line x1="761.40" y1="236.00" x2="730.80" y2="220.20" stroke="#000" stroke-width="3.3" stroke-linecap="round"/>
<line x1="761.60" y1="236.00" x2="792.40" y2="220.20" stroke="#000" stroke-width="3.3" stroke-linecap="round"/>
<line x1="863.80" y1="210.00" x2="839.60" y2="195.80" stroke="#000" stroke-width="3.3" stroke-linecap="round"/>
<line x1="534.00" y1="241.50" x2="433.80" y2="381.60" stroke="#000" stroke-width="2.5" stroke-linecap="butt" stroke-dasharray="7.5 4.2"/>
<line x1="534.00" y1="241.50" x2="635.00" y2="381.20" stroke="#000" stroke-width="2.5" stroke-linecap="butt" stroke-dasharray="7.5 4.2"/>
<line x1="534.00" y1="243.00" x2="534.00" y2="391.00" stroke="#000" stroke-width="2.8" stroke-linecap="butt" stroke-dasharray="7 4.6"/>
<rect x="480.00" y="259.50" width="120.00" height="26.00" fill="#fff" />
<rect x="506.00" y="297.00" width="66.00" height="39.00" fill="#fff" />
<text transform="translate(512.00 270.10) translate(-29.00 0) scale(0.7200 1)" font-size="10.84" font-weight="bold" letter-spacing="1.663" stroke="#000" stroke-width="0.3" stroke-linejoin="round">CATHEDRAL</text>
<text transform="translate(573.00 270.10) translate(-23.00 0) scale(0.7200 1)" font-size="10.84" font-weight="bold" letter-spacing="3.323" stroke="#000" stroke-width="0.3" stroke-linejoin="round">CEILING</text>
<text transform="translate(539.40 283.80) translate(-25.60 0) scale(0.7200 1)" font-size="10.28" font-weight="bold" letter-spacing="2.501" stroke="#000" stroke-width="0.3" stroke-linejoin="round">THRU-OUT</text>
<text transform="translate(539.60 311.90) translate(-29.50 0) scale(0.7800 1)" font-size="16.56" font-weight="normal" letter-spacing="4.262" stroke="#000" stroke-width="0.55" stroke-linejoin="round">LIVING</text>
<text transform="translate(538.70 333.00) translate(-19.70 0) scale(0.7400 1)" font-size="16.56" font-weight="normal" letter-spacing="0.549" stroke="#000" stroke-width="0.55" stroke-linejoin="round">ROOM</text>
<text transform="translate(532.10 403.80) translate(-45.90 0) scale(0.7200 1)" font-size="10.28" font-weight="bold" letter-spacing="0.616" stroke="#000" stroke-width="0.3" stroke-linejoin="round">OPT PICTURE WINDOW</text>
<text transform="translate(668.10 402.60) translate(-6.85 0) scale(0.6803 1)" font-size="9.44" font-weight="bold" letter-spacing="0.367" stroke="#000" stroke-width="0.3" stroke-linejoin="round">OPT</text>
<text transform="translate(303.40 310.70) translate(-29.70 0) scale(0.7400 1)" font-size="16.56" font-weight="normal" letter-spacing="2.273" stroke="#000" stroke-width="0.55" stroke-linejoin="round">MASTER</text>
<text transform="translate(305.00 331.90) translate(-35.10 0) scale(0.7400 1)" font-size="16.56" font-weight="normal" letter-spacing="1.552" stroke="#000" stroke-width="0.55" stroke-linejoin="round">BEDROOM</text>
<text transform="translate(580.60 166.20) translate(-30.00 0) scale(0.7800 1)" font-size="16.56" font-weight="normal" letter-spacing="3.790" stroke="#000" stroke-width="0.55" stroke-linejoin="round">DINING</text>
<text transform="translate(697.30 153.30) translate(-24.80 0) scale(0.8000 1)" font-size="16.56" font-weight="normal" letter-spacing="4.000" word-spacing="4.589" stroke="#000" stroke-width="0.55" stroke-linejoin="round">B/R 2</text>
<text transform="translate(822.20 153.30) translate(-24.65 0) scale(0.8000 1)" font-size="16.56" font-weight="normal" letter-spacing="4.000" word-spacing="4.214" stroke="#000" stroke-width="0.55" stroke-linejoin="round">B/R 3</text>
<line x1="220.50" y1="35.60" x2="892.50" y2="35.60" stroke="#000" stroke-width="1.3" stroke-linecap="butt"/>
<path d="M220.50 35.60 L228.00 33.90 L228.00 37.30 Z" fill="#000"/>
<path d="M892.50 35.60 L885.00 37.30 L885.00 33.90 Z" fill="#000"/>
<line x1="220.50" y1="60.60" x2="892.50" y2="60.60" stroke="#000" stroke-width="1.3" stroke-linecap="butt"/>
<line x1="220.50" y1="32.00" x2="220.50" y2="72.60" stroke="#000" stroke-width="1.3" stroke-linecap="butt"/>
<line x1="892.50" y1="32.00" x2="892.50" y2="72.60" stroke="#000" stroke-width="1.3" stroke-linecap="butt"/>
<path d="M220.50 60.60 L228.00 58.90 L228.00 62.30 Z" fill="#000"/>
<line x1="354.50" y1="56.00" x2="354.50" y2="72.60" stroke="#000" stroke-width="1.3" stroke-linecap="butt"/>
<path d="M354.50 60.60 L347.00 62.30 L347.00 58.90 Z" fill="#000"/>
<path d="M354.50 60.60 L362.00 58.90 L362.00 62.30 Z" fill="#000"/>
<line x1="518.50" y1="56.00" x2="518.50" y2="72.60" stroke="#000" stroke-width="1.3" stroke-linecap="butt"/>
<path d="M518.50 60.60 L511.00 62.30 L511.00 58.90 Z" fill="#000"/>
<path d="M518.50 60.60 L526.00 58.90 L526.00 62.30 Z" fill="#000"/>
<line x1="638.50" y1="56.00" x2="638.50" y2="72.60" stroke="#000" stroke-width="1.3" stroke-linecap="butt"/>
<path d="M638.50 60.60 L631.00 62.30 L631.00 58.90 Z" fill="#000"/>
<path d="M638.50 60.60 L646.00 58.90 L646.00 62.30 Z" fill="#000"/>
<line x1="761.50" y1="56.00" x2="761.50" y2="72.60" stroke="#000" stroke-width="1.3" stroke-linecap="butt"/>
<path d="M761.50 60.60 L754.00 62.30 L754.00 58.90 Z" fill="#000"/>
<path d="M761.50 60.60 L769.00 58.90 L769.00 62.30 Z" fill="#000"/>
<path d="M892.50 60.60 L885.00 62.30 L885.00 58.90 Z" fill="#000"/>
<text transform="translate(540.00 31.70) translate(-21.70 0) scale(0.8000 1)" font-size="16.70" font-weight="normal" letter-spacing="2.348" stroke="#000" stroke-width="0.55" stroke-linejoin="round">60'-0"</text>
<text transform="translate(287.60 56.60) translate(-21.50 0) scale(0.8000 1)" font-size="16.42" font-weight="normal" letter-spacing="2.390" stroke="#000" stroke-width="0.55" stroke-linejoin="round">12'-0"</text>
<text transform="translate(437.00 56.60) translate(-21.50 0) scale(0.8000 1)" font-size="16.42" font-weight="normal" letter-spacing="2.390" stroke="#000" stroke-width="0.55" stroke-linejoin="round">14'-8"</text>
<text transform="translate(578.60 56.60) translate(-21.50 0) scale(0.8000 1)" font-size="16.42" font-weight="normal" letter-spacing="2.390" stroke="#000" stroke-width="0.55" stroke-linejoin="round">10'-8"</text>
<text transform="translate(700.00 56.60) translate(-21.50 0) scale(0.8000 1)" font-size="16.42" font-weight="normal" letter-spacing="2.390" stroke="#000" stroke-width="0.55" stroke-linejoin="round">11'-0"</text>
<text transform="translate(827.00 56.60) translate(-21.50 0) scale(0.8000 1)" font-size="16.42" font-weight="normal" letter-spacing="2.390" stroke="#000" stroke-width="0.55" stroke-linejoin="round">11'-8"</text>
<line x1="187.50" y1="83.80" x2="187.50" y2="390.00" stroke="#000" stroke-width="1.3" stroke-linecap="butt"/>
<line x1="184.00" y1="83.80" x2="208.80" y2="83.80" stroke="#000" stroke-width="1.3" stroke-linecap="butt"/>
<line x1="184.00" y1="390.00" x2="208.80" y2="390.00" stroke="#000" stroke-width="1.3" stroke-linecap="butt"/>
<path d="M187.50 83.80 L189.20 91.30 L185.80 91.30 Z" fill="#000"/>
<path d="M187.50 390.00 L185.80 382.50 L189.20 382.50 Z" fill="#000"/>
<text transform="translate(184.30 237.40) rotate(-90) translate(-21.50 0) scale(0.8000 1)" font-size="16.42" font-weight="normal" letter-spacing="2.390" stroke="#000" stroke-width="0.55" stroke-linejoin="round">27'-4"</text>
<line x1="220.50" y1="435.50" x2="892.50" y2="435.50" stroke="#000" stroke-width="1.3" stroke-linecap="butt"/>
<line x1="220.50" y1="401.20" x2="220.50" y2="439.00" stroke="#000" stroke-width="1.3" stroke-linecap="butt"/>
<path d="M220.50 435.50 L228.00 433.80 L228.00 437.20 Z" fill="#000"/>
<line x1="384.50" y1="401.20" x2="384.50" y2="439.00" stroke="#000" stroke-width="1.3" stroke-linecap="butt"/>
<path d="M384.50 435.50 L377.00 437.20 L377.00 433.80 Z" fill="#000"/>
<path d="M384.50 435.50 L392.00 433.80 L392.00 437.20 Z" fill="#000"/>
<line x1="429.50" y1="401.20" x2="429.50" y2="439.00" stroke="#000" stroke-width="1.3" stroke-linecap="butt"/>
<path d="M429.50 435.50 L422.00 437.20 L422.00 433.80 Z" fill="#000"/>
<path d="M429.50 435.50 L437.00 433.80 L437.00 437.20 Z" fill="#000"/>
<line x1="653.50" y1="401.20" x2="653.50" y2="439.00" stroke="#000" stroke-width="1.3" stroke-linecap="butt"/>
<path d="M653.50 435.50 L646.00 437.20 L646.00 433.80 Z" fill="#000"/>
<path d="M653.50 435.50 L661.00 433.80 L661.00 437.20 Z" fill="#000"/>
<line x1="713.50" y1="401.20" x2="713.50" y2="439.00" stroke="#000" stroke-width="1.3" stroke-linecap="butt"/>
<path d="M713.50 435.50 L706.00 437.20 L706.00 433.80 Z" fill="#000"/>
<path d="M713.50 435.50 L721.00 433.80 L721.00 437.20 Z" fill="#000"/>
<line x1="892.50" y1="401.20" x2="892.50" y2="439.00" stroke="#000" stroke-width="1.3" stroke-linecap="butt"/>
<path d="M892.50 435.50 L885.00 437.20 L885.00 433.80 Z" fill="#000"/>
<text transform="translate(302.80 431.20) translate(-21.20 0) scale(0.8000 1)" font-size="16.42" font-weight="normal" letter-spacing="2.240" stroke="#000" stroke-width="0.55" stroke-linejoin="round">14'-8"</text>
<text transform="translate(406.60 431.20) translate(-18.00 0) scale(0.8000 1)" font-size="16.42" font-weight="normal" letter-spacing="3.079" stroke="#000" stroke-width="0.55" stroke-linejoin="round">4'-0"</text>
<text transform="translate(541.00 431.20) translate(-21.80 0) scale(0.8000 1)" font-size="16.42" font-weight="normal" letter-spacing="2.540" stroke="#000" stroke-width="0.55" stroke-linejoin="round">20'-0"</text>
<text transform="translate(683.00 431.20) translate(-18.50 0) scale(0.8000 1)" font-size="16.42" font-weight="normal" letter-spacing="3.391" stroke="#000" stroke-width="0.55" stroke-linejoin="round">5'-4"</text>
<text transform="translate(802.80 431.20) translate(-21.20 0) scale(0.8000 1)" font-size="16.42" font-weight="normal" letter-spacing="2.240" stroke="#000" stroke-width="0.55" stroke-linejoin="round">16'-0"</text>
<text transform="translate(202.30 469.40) translate(0.00 0) scale(0.8600 1)" font-size="20.17" font-weight="normal" letter-spacing="3.742" stroke="#000" stroke-width="0.7" stroke-linejoin="round">SK715-A</text>
<text transform="translate(307.00 469.40) translate(0.00 0) scale(0.8600 1)" font-size="20.17" font-weight="normal" letter-spacing="4.185" stroke="#000" stroke-width="0.7" stroke-linejoin="round">2860</text>
<text transform="translate(384.60 469.40) translate(0.00 0) scale(0.8600 1)" font-size="20.17" font-weight="normal" letter-spacing="3.072" stroke="#000" stroke-width="0.7" stroke-linejoin="round">Approx.</text>
<text transform="translate(491.40 469.40) translate(0.00 0) scale(0.8600 1)" font-size="20.17" font-weight="normal" letter-spacing="3.216" stroke="#000" stroke-width="0.7" stroke-linejoin="round">1640</text>
<text transform="translate(552.60 469.40) translate(0.00 0) scale(0.8600 1)" font-size="20.17" font-weight="normal" letter-spacing="4.060" stroke="#000" stroke-width="0.7" stroke-linejoin="round">Sq.</text>
<text transform="translate(606.40 469.40) translate(0.00 0) scale(0.8600 1)" font-size="20.17" font-weight="normal" letter-spacing="5.993" stroke="#000" stroke-width="0.7" stroke-linejoin="round">Ft.</text>
<text x="209.80" y="490.60" font-size="11" text-anchor="middle" font-weight="bold" stroke="#000" stroke-width="0.8">*</text>
<text x="223.20" y="487.60" font-size="8" text-anchor="middle" font-weight="bold" stroke="#000" stroke-width="0.4">=</text>
<text transform="translate(233.20 488.50) translate(0.00 0) scale(0.7617 1)" font-size="11.96" font-weight="bold" letter-spacing="0.328" stroke="#000" stroke-width="0.3" stroke-linejoin="round">STAGGERED</text>
<text transform="translate(301.20 488.50) translate(0.00 0) scale(0.7447 1)" font-size="11.96" font-weight="bold" letter-spacing="0.336" stroke="#000" stroke-width="0.3" stroke-linejoin="round">OVERHEAD</text>
<text transform="translate(361.70 488.50) translate(0.00 0) scale(0.8000 1)" font-size="11.96" font-weight="bold" letter-spacing="0.772" stroke="#000" stroke-width="0.3" stroke-linejoin="round">CABINETS</text>
<text transform="translate(421.00 488.50) translate(0.00 0) scale(0.8000 1)" font-size="11.96" font-weight="bold" letter-spacing="0.447" stroke="#000" stroke-width="0.3" stroke-linejoin="round">W/OPT</text>
<text transform="translate(463.00 488.50) translate(0.00 0) scale(0.7758 1)" font-size="11.96" font-weight="bold" letter-spacing="0.322" stroke="#000" stroke-width="0.3" stroke-linejoin="round">FLAT</text>
<text transform="translate(496.60 488.50) translate(0.00 0) scale(0.8000 1)" font-size="11.96" font-weight="bold" letter-spacing="1.587" stroke="#000" stroke-width="0.3" stroke-linejoin="round">CEILING</text>
<text transform="translate(578.80 569.50) translate(-38.80 0) scale(0.7600 1)" font-size="16.70" font-weight="normal" letter-spacing="2.524" stroke="#000" stroke-width="0.55" stroke-linejoin="round">OPTIONAL</text>
<text transform="translate(578.30 590.30) translate(-43.80 0) scale(0.7600 1)" font-size="16.70" font-weight="normal" letter-spacing="2.590" stroke="#000" stroke-width="0.55" stroke-linejoin="round">STAIRWELL</text>
<text transform="translate(580.60 604.80) translate(-39.50 0) scale(0.7200 1)" font-size="11.40" font-weight="bold" letter-spacing="2.836" stroke="#000" stroke-width="0.3" stroke-linejoin="round">(OMITS DESK)</text>
<text transform="translate(431.00 697.80) translate(-25.00 0) scale(0.7600 1)" font-size="20.34" font-weight="normal" letter-spacing="2.747" stroke="#000" stroke-width="0.55" stroke-linejoin="round">NOVA</text>
<text transform="translate(430.30 714.60) translate(-133.30 0) scale(0.8500 1)" font-size="14.19" font-style="italic" font-weight="bold" letter-spacing="2.232" stroke="#000" stroke-width="0.3" stroke-linejoin="round">Commodore Homes of Pennsylvania</text>
<g clip-path="url(#ic)">
<clipPath id="ic"><rect x="632" y="455" width="290" height="210"/></clipPath>
<clipPath id="gc4"><path d="M685.00 581.70 L802.50 581.70 L802.50 566.20 L887.00 566.20 L887.00 649.20 L656.60 649.20 L656.60 613.20 Z"/></clipPath>
<path d="M660.90 566.20V649.20M668.37 566.20V649.20M675.83 566.20V649.20M683.30 566.20V649.20M690.77 566.20V649.20M698.23 566.20V649.20M705.70 566.20V649.20M713.17 566.20V649.20M720.63 566.20V649.20M728.10 566.20V649.20M735.57 566.20V649.20M743.03 566.20V649.20M750.50 566.20V649.20M757.97 566.20V649.20M765.43 566.20V649.20M772.90 566.20V649.20M780.37 566.20V649.20M787.83 566.20V649.20M795.30 566.20V649.20M802.77 566.20V649.20M810.23 566.20V649.20M817.70 566.20V649.20M825.17 566.20V649.20M832.63 566.20V649.20M840.10 566.20V649.20M847.57 566.20V649.20M855.03 566.20V649.20M862.50 566.20V649.20M869.97 566.20V649.20M877.43 566.20V649.20M884.90 566.20V649.20M656.60 569.02H887.00M656.60 576.48H887.00M656.60 583.95H887.00M656.60 591.42H887.00M656.60 598.88H887.00M656.60 606.35H887.00M656.60 613.82H887.00M656.60 621.28H887.00M656.60 628.75H887.00M656.60 636.22H887.00M656.60 643.68H887.00" fill="none" stroke="#000" stroke-width="1.5" clip-path="url(#gc4)"/>
<clipPath id="gc5"><path d="M802.50 506.20 L858.50 506.20 L858.50 560.20 L802.50 560.20 Z"/></clipPath>
<path d="M802.77 506.20V560.20M810.23 506.20V560.20M817.70 506.20V560.20M825.17 506.20V560.20M832.63 506.20V560.20M840.10 506.20V560.20M847.57 506.20V560.20M855.03 506.20V560.20M802.50 509.43H858.50M802.50 516.90H858.50M802.50 524.37H858.50M802.50 531.83H858.50M802.50 539.30H858.50M802.50 546.77H858.50M802.50 554.23H858.50" fill="none" stroke="#000" stroke-width="1.5" clip-path="url(#gc5)"/>
<rect x="802.50" y="506.20" width="27.50" height="18.40" fill="#fff" />
<rect x="715.00" y="585.80" width="25.60" height="21.40" fill="#fff" />
<rect x="730.00" y="615.20" width="10.60" height="34.00" fill="#fff" />
<rect x="777.00" y="622.80" width="110.00" height="26.40" fill="#fff" />
<path d="M685.00 581.70 L656.60 613.20 L656.60 649.20" fill="none" stroke="#000" stroke-width="2" stroke-linejoin="miter" stroke-linecap="butt"/>
<rect x="646.6" y="613.5999999999999" width="9.4" height="35" rx="1.5" fill="#fff" stroke="#000" stroke-width="1.5"/>
<line x1="649.60" y1="616.20" x2="649.60" y2="648.20" stroke="#000" stroke-width="1.3" stroke-linecap="butt" stroke-dasharray="3 1.5"/>
<line x1="653.00" y1="616.20" x2="653.00" y2="648.20" stroke="#000" stroke-width="1.3" stroke-linecap="butt" stroke-dasharray="3 1.5"/>
<line x1="765.00" y1="581.50" x2="798.00" y2="581.50" stroke="#000" stroke-width="1.3" stroke-linecap="butt"/>
<line x1="886.60" y1="566.20" x2="886.60" y2="599.70" stroke="#000" stroke-width="2" stroke-linecap="butt"/>
<rect x="685.00" y="576.80" width="81.00" height="5.40" fill="#000" />
<rect x="711.25" y="582.20" width="3.75" height="36.50" fill="#000" />
<circle cx="713.1" cy="618.5" r="1.9" fill="#000"/>
<rect x="711.25" y="608.80" width="33.15" height="6.00" fill="#000" />
<rect x="740.60" y="608.80" width="3.80" height="40.40" fill="#000" />
<line x1="741.60" y1="582.20" x2="741.60" y2="609.20" stroke="#000" stroke-width="1.6" stroke-linecap="butt"/>
<rect x="716.20" y="586.60" width="23.40" height="19.60" fill="#fff" stroke="#000" stroke-width="2" />
<text transform="translate(727.2 602.20) rotate(-90) scale(0.9 1)" font-size="9.6" stroke="#000" stroke-width="0.3">F</text>
<line x1="729.60" y1="614.80" x2="729.60" y2="649.20" stroke="#000" stroke-width="1.4" stroke-linecap="butt"/>
<text transform="translate(739.40 631.80) rotate(-90) translate(-12.50 0) scale(0.7200 1)" font-size="11.40" font-weight="normal" letter-spacing="3.748" stroke="#000" stroke-width="0.3" stroke-linejoin="round">G.C.</text>
<circle cx="758.40" cy="636.60" r="8.80" fill="#fff" stroke="#000" stroke-width="2"/>
<text transform="translate(758.60 640.80) translate(-5.20 0) scale(0.7200 1)" font-size="6.09" font-weight="bold" letter-spacing="1.300" stroke="#000" stroke-width="0.3" stroke-linejoin="round">W/H</text>
<rect x="770.80" y="624.20" width="6.20" height="25.00" fill="#000" />
<circle cx="773.4" cy="624.0" r="2.8" fill="#000"/>
<line x1="776.60" y1="623.80" x2="829.00" y2="623.80" stroke="#000" stroke-width="1.5" stroke-linecap="butt"/>
<line x1="783.60" y1="624.20" x2="783.60" y2="649.20" stroke="#000" stroke-width="1.2" stroke-linecap="butt"/>
<rect x="785.60" y="626.60" width="21.00" height="21.20" fill="#fff" stroke="#000" stroke-width="1.3" />
<rect x="790.60" y="643.80" width="10.60" height="3.40" fill="#fff" stroke="#000" stroke-width="1.1" />
<circle cx="795.8" cy="639.8" r="1.5" fill="#000"/>
<line x1="791.50" y1="642.20" x2="800.50" y2="642.20" stroke="#000" stroke-width="1.1" stroke-linecap="butt"/>
<rect x="813.00" y="637.80" width="13.40" height="11.40" fill="#fff" stroke="#000" stroke-width="1.3" />
<rect x="828.20" y="623.60" width="25.60" height="23.80" fill="#fff" />
<path d="M828.2 631.9999999999999V623.5999999999999H836.6M845.4 623.5999999999999H853.8V631.9999999999999M853.8 639.0V647.4H845.4M836.6 647.4H828.2V639.0" fill="none" stroke="#000" stroke-width="2"/>
<path d="M840.2 623.5999999999999h1.6M840.2 647.4h1.6M828.2 634.7v1.6M853.8 634.7v1.6" fill="none" stroke="#000" stroke-width="1.6"/>
<rect x="855.20" y="623.60" width="25.20" height="23.80" fill="#fff" />
<path d="M855.2 631.9999999999999V623.5999999999999H863.6M872.0 623.5999999999999H880.4V631.9999999999999M880.4 639.0V647.4H872.0M863.6 647.4H855.2V639.0" fill="none" stroke="#000" stroke-width="2"/>
<path d="M867.0 623.5999999999999h1.6M867.0 647.4h1.6M855.2 634.7v1.6M880.4 634.7v1.6" fill="none" stroke="#000" stroke-width="1.6"/>
<text transform="translate(840.60 639.40) translate(-3.30 0) scale(0.8245 1)" font-size="11.12" font-weight="bold" letter-spacing="0.303" stroke="#000" stroke-width="0.3" stroke-linejoin="round">D</text>
<text transform="translate(867.80 640.00) translate(-4.50 0) scale(0.8787 1)" font-size="10.84" font-weight="bold" letter-spacing="0.284" stroke="#000" stroke-width="0.3" stroke-linejoin="round">W</text>
<rect x="883.00" y="626.40" width="4.00" height="22.80" fill="#000" />
<rect x="798.00" y="559.60" width="95.75" height="6.85" fill="#000" />
<rect x="858.60" y="506.20" width="27.70" height="53.60" fill="#fff" stroke="#000" stroke-width="1.2" />
<rect x="861.6" y="508.2" width="22.6" height="49.4" rx="5" fill="#fff" stroke="#000" stroke-width="1.4"/>
<circle cx="881" cy="532.8" r="1.2" fill="#000"/>
<line x1="856.00" y1="506.20" x2="856.00" y2="559.80" stroke="#000" stroke-width="1.1" stroke-linecap="butt"/>
<line x1="830.00" y1="506.20" x2="830.00" y2="524.60" stroke="#000" stroke-width="1.3" stroke-linecap="butt"/>
<line x1="802.50" y1="524.40" x2="830.00" y2="524.40" stroke="#000" stroke-width="1.3" stroke-linecap="butt"/>
<ellipse cx="815.60" cy="514.60" rx="10.00" ry="8.00" fill="#fff" stroke="#000" stroke-width="1.3"/>
<ellipse cx="815.60" cy="515.00" rx="7.00" ry="5.40" fill="#fff" stroke="#000" stroke-width="1.2"/>
<circle cx="815.6" cy="513.4" r="1.7" fill="#000"/>
<line x1="832.60" y1="506.20" x2="832.60" y2="524.20" stroke="#000" stroke-width="1.1" stroke-linecap="butt"/>
<path d="M837.6 513.2 C837.6 523.2 839.5 531.5999999999999 844.5 531.5999999999999 C849.5 531.5999999999999 851.4 523.2 851.4 513.2 Z" fill="#fff" stroke="#000" stroke-width="1.3"/>
<rect x="834.40" y="506.60" width="19.40" height="6.80" fill="#fff" stroke="#000" stroke-width="1.3" />
<line x1="829.60" y1="548.80" x2="845.40" y2="557.40" stroke="#000" stroke-width="3.6" stroke-linecap="butt" stroke-dasharray="3.8 1.2"/>
<line x1="886.00" y1="570.80" x2="882.60" y2="578.20" stroke="#000" stroke-width="1.4" stroke-linecap="butt"/>
<line x1="882.80" y1="577.80" x2="871.40" y2="597.20" stroke="#000" stroke-width="3.6" stroke-linecap="butt" stroke-dasharray="5.6 1.6"/>
<rect x="802.60" y="567.60" width="43.00" height="12.80" fill="#fff" />
<line x1="803.50" y1="579.80" x2="845.60" y2="579.80" stroke="#000" stroke-width="1.2" stroke-linecap="butt" stroke-dasharray="4.2 1.6"/>
<text transform="translate(825.00 576.20) translate(-21.00 0) scale(0.6618 1)" font-size="10.28" font-weight="bold" letter-spacing="0.378" stroke="#000" stroke-width="0.3" stroke-linejoin="round">OPT BENCH</text>
<line x1="818.50" y1="580.20" x2="818.50" y2="588.20" stroke="#000" stroke-width="1.2" stroke-linecap="butt"/>
<line x1="826.00" y1="580.20" x2="826.00" y2="588.20" stroke="#000" stroke-width="1.2" stroke-linecap="butt"/>
<line x1="833.50" y1="580.20" x2="833.50" y2="588.20" stroke="#000" stroke-width="1.2" stroke-linecap="butt"/>
<line x1="841.00" y1="580.20" x2="841.00" y2="588.20" stroke="#000" stroke-width="1.2" stroke-linecap="butt"/>
<line x1="890.40" y1="599.00" x2="908.00" y2="573.00" stroke="#000" stroke-width="3.3" stroke-linecap="round"/>
<line x1="742.60" y1="583.80" x2="753.80" y2="605.20" stroke="#000" stroke-width="3.3" stroke-linecap="round"/>
<line x1="744.60" y1="624.60" x2="768.60" y2="611.20" stroke="#000" stroke-width="3.3" stroke-linecap="round"/>
<line x1="698.80" y1="621.00" x2="713.80" y2="648.20" stroke="#000" stroke-width="3.3" stroke-linecap="round"/>
<line x1="676.40" y1="632.20" x2="707.00" y2="650.20" stroke="#000" stroke-width="3.3" stroke-linecap="round"/>
<line x1="766.00" y1="578.80" x2="792.60" y2="596.20" stroke="#000" stroke-width="3.3" stroke-linecap="round"/>
<line x1="816.40" y1="531.80" x2="800.40" y2="558.20" stroke="#000" stroke-width="3.3" stroke-linecap="round"/>
</g>
<rect x="634.40" y="649.20" width="259.35" height="8.80" fill="#000" />
<rect x="886.25" y="457.50" width="7.50" height="111.50" fill="#000" />
<rect x="886.25" y="599.20" width="7.50" height="58.80" fill="#000" />
<rect x="634.40" y="497.60" width="128.60" height="8.20" fill="#000" />
<rect x="655.60" y="538.00" width="107.40" height="6.40" fill="#000" />
<rect x="636.25" y="474.40" width="4.75" height="23.60" fill="#000" />
<rect x="642.50" y="472.25" width="20.50" height="5.55" fill="#000" />
<rect x="636.25" y="474.00" width="7.75" height="3.80" fill="#000" />
<rect x="691.40" y="472.25" width="25.60" height="5.55" fill="#000" />
<rect x="712.50" y="472.25" width="4.50" height="25.75" fill="#000" />
<circle cx="691.6" cy="475" r="2.8" fill="#000"/>
<line x1="641.00" y1="487.60" x2="712.50" y2="487.60" stroke="#000" stroke-width="1.7" stroke-linecap="butt"/>
<line x1="663.00" y1="475.00" x2="687.40" y2="460.80" stroke="#000" stroke-width="3.3" stroke-linecap="round"/>
<path d="M659.40 505.8V538.2M667.80 505.8V538.2M676.20 505.8V538.2M684.60 505.8V538.2M693.00 505.8V538.2M701.40 505.8V538.2M709.80 505.8V538.2M718.20 505.8V538.2M726.60 505.8V538.2M735.00 505.8V538.2M743.40 505.8V538.2M751.80 505.8V538.2M760.20 505.8V538.2" stroke="#000" stroke-width="1.6" fill="none"/>
<line x1="659.00" y1="507.60" x2="763.00" y2="507.60" stroke="#000" stroke-width="1" stroke-linecap="butt" stroke-dasharray="3 2"/>
<line x1="697.60" y1="523.00" x2="712.00" y2="523.00" stroke="#000" stroke-width="1" stroke-linecap="butt"/>
<path d="M701.00 520.40 L697.60 523.00 L701.00 525.60" fill="none" stroke="#000" stroke-width="1" stroke-linejoin="miter" stroke-linecap="butt"/>
<text transform="translate(717.90 526.00) translate(-4.20 0) scale(0.6579 1)" font-size="8.60" font-weight="bold" letter-spacing="0.380" stroke="#000" stroke-width="0.3" stroke-linejoin="round">DN</text>
<line x1="657.00" y1="507.00" x2="642.00" y2="533.00" stroke="#000" stroke-width="3.6" stroke-linecap="butt" stroke-dasharray="2.6 1.8"/>
<text transform="translate(643.80 547.50) translate(-6.80 0) scale(0.5593 1)" font-size="11.40" font-weight="bold" letter-spacing="0.447" stroke="#000" stroke-width="0.3" stroke-linejoin="round">OPT</text>
<text transform="translate(645.00 560.00) translate(-5.00 0) scale(0.6177 1)" font-size="11.40" font-weight="bold" letter-spacing="0.405" stroke="#000" stroke-width="0.3" stroke-linejoin="round">UP</text>
<line x1="746.40" y1="470.20" x2="777.00" y2="533.00" stroke="#000" stroke-width="3.3" stroke-linecap="round"/>
<path d="M760.00 457.60 L763.80 457.60 L763.80 461.00 L773.00 458.60 L763.80 465.00 L763.80 467.40 L760.00 467.40 Z" fill="#000" stroke="#000" stroke-width="0.5" stroke-linejoin="miter" stroke-linecap="butt"/>
<rect x="798.00" y="460.00" width="4.50" height="69.00" fill="#000" />
<circle cx="799.6" cy="460.6" r="2.8" fill="#000"/>
<rect x="798.00" y="556.40" width="4.50" height="23.60" fill="#000" />
<circle cx="800.2" cy="580" r="2.6" fill="#000"/>
<rect x="802.50" y="472.25" width="27.50" height="5.55" fill="#000" />
<circle cx="829.8" cy="475" r="2.8" fill="#000"/>
<rect x="859.40" y="472.25" width="27.00" height="5.55" fill="#000" />
<line x1="859.40" y1="474.60" x2="834.60" y2="460.20" stroke="#000" stroke-width="3.3" stroke-linecap="round"/>
<line x1="802.50" y1="487.60" x2="886.30" y2="487.60" stroke="#000" stroke-width="1.7" stroke-linecap="butt"/>
<rect x="798.00" y="497.60" width="95.75" height="8.20" fill="#000" />
<rect x="658.80" y="656.60" width="48.20" height="1.80" fill="#fff" />
<rect x="672.60" y="650.80" width="34.40" height="5.20" fill="#fff" />
<rect x="660.00" y="651.40" width="12.00" height="4.00" fill="#fff" />
<line x1="660.00" y1="652.60" x2="672.00" y2="652.60" stroke="#000" stroke-width="1" stroke-linecap="butt" stroke-dasharray="2 1"/>
<line x1="660.00" y1="654.40" x2="672.00" y2="654.40" stroke="#000" stroke-width="1" stroke-linecap="butt" stroke-dasharray="2 1"/>
<rect x="782.00" y="650.40" width="27.00" height="6.80" fill="#fff" />
<line x1="782.00" y1="657.50" x2="809.00" y2="657.50" stroke="#000" stroke-width="0.9" stroke-linecap="butt"/>
<rect x="812.00" y="531.00" width="28.00" height="13.00" fill="#fff" />
<text transform="translate(825.90 543.80) translate(-12.95 0) scale(0.7400 1)" font-size="16.42" font-weight="normal" letter-spacing="2.020" stroke="#000" stroke-width="0.55" stroke-linejoin="round">BA2</text>
<rect x="811.00" y="593.40" width="31.00" height="14.00" fill="#fff" />
<text transform="translate(826.50 607.00) translate(-13.60 0) scale(0.7800 1)" font-size="16.56" font-weight="normal" letter-spacing="1.824" stroke="#000" stroke-width="0.55" stroke-linejoin="round">UTL</text>
</svg>
</body></html>
